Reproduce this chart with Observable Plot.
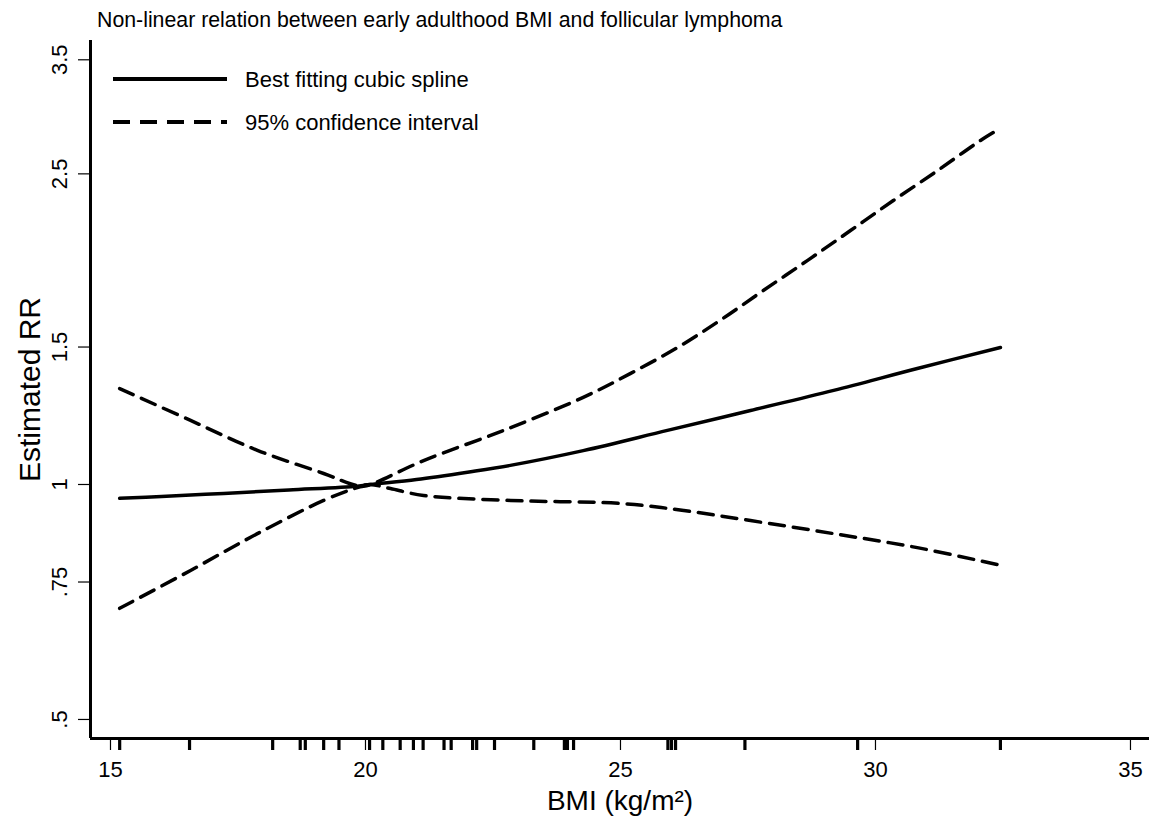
<!DOCTYPE html>
<html>
<head>
<meta charset="utf-8">
<script src="https://cdn.jsdelivr.net/npm/d3@7"></script>
<script src="https://cdn.jsdelivr.net/npm/@observablehq/plot@0.6"></script>
<style>
  html, body { margin: 0; padding: 0; background: #fff; }
  body { width: 1149px; height: 819px; position: relative; overflow: hidden;
         font-family: "Liberation Sans", Arial, sans-serif; color: #000; }
  #title { height: 30px; box-sizing: border-box; padding-top: 10px; padding-left: 97px;
           font-size: 21.3px; line-height: 21px; white-space: nowrap; }
  #legend { position: absolute; left: 0; top: 0; width: 600px; height: 150px; pointer-events: none; }
  #legend text { font-family: "Liberation Sans", Arial, sans-serif; font-size: 22px; fill: #000; }
</style>
</head>
<body>
<div id="title">Non-linear relation between early adulthood BMI and follicular lymphoma</div>
<div id="chart"></div>
<svg id="legend" width="600" height="150">
  <line x1="113" x2="227" y1="79" y2="79" stroke="#000" stroke-width="4"/>
  <text x="245" y="79" dominant-baseline="central">Best fitting cubic spline</text>
  <line x1="113" x2="227" y1="122" y2="122" stroke="#000" stroke-width="4" stroke-dasharray="17,10"/>
  <text x="245" y="122" dominant-baseline="central">95% confidence interval</text>
</svg>
<script>
// ---- data ----
const splineBMI = [15.18, 16.0, 17.22, 18.5, 19.84, 20.1, 21.0, 22.0, 22.84, 24.27, 25.92, 27.55, 29.18, 30.82, 32.45];
const splineRR  = [0.960, 0.965, 0.974, 0.984, 0.995, 1.0, 1.015, 1.037, 1.058, 1.105, 1.173, 1.244, 1.320, 1.408, 1.498];

const upperBMI = [15.18, 16.57, 17.88, 19.18, 19.84, 20.1, 21.14, 22.71, 24.27, 25.20, 26.12, 26.96, 27.80, 28.67, 29.51, 30.35, 31.22, 32.06, 32.45];
const upperRR  = [0.694, 0.776, 0.865, 0.954, 0.991, 1.0, 1.073, 1.173, 1.293, 1.388, 1.498, 1.624, 1.772, 1.937, 2.115, 2.311, 2.525, 2.759, 2.86];

const lowerBMI = [15.18, 16.57, 17.88, 19.18, 19.84, 20.1, 20.49, 21.14, 22.84, 25.06, 26.24, 27.55, 29.18, 30.82, 32.45];
const lowerRR  = [1.327, 1.208, 1.106, 1.033, 0.997, 1.0, 0.988, 0.968, 0.954, 0.945, 0.926, 0.899, 0.865, 0.830, 0.788];

// observed BMI values (rug along the x axis)
const rugBMI = [15.18, 16.55, 18.18, 18.72, 18.82, 19.18, 19.48, 20.08, 20.34, 20.68, 20.94, 21.13,
                21.54, 21.68, 22.1, 22.18, 22.53, 23.30, 23.9, 23.96, 24.08, 25.93, 26.0, 26.08, 27.44, 29.65, 32.45];

const xTicks = [15, 20, 25, 30, 35];
const yTicks = [0.5, 0.75, 1, 1.5, 2.5, 3.5];
const yTickLabels = [".5", ".75", "1", "1.5", "2.5", "3.5"];

const xDomain = [14.608, 35.373];
const yDomain = [0.4727, 3.705];

// ---- build tables ----
const spline = splineBMI.map((x, i) => ({x, y: splineRR[i]}));
const upper = upperBMI.map((x, i) => ({x, y: upperRR[i]}));
const lower = lowerBMI.map((x, i) => ({x, y: lowerRR[i]}));
const yTickTable = yTicks.map((v, i) => ({v, label: yTickLabels[i]}));

const font = "'Liberation Sans', Arial, sans-serif";

const chart = Plot.plot({
  width: 1149,
  height: 789,
  marginTop: 10,
  marginBottom: 81,
  marginLeft: 90,
  marginRight: 0,
  style: {fontFamily: font, background: "#fff", color: "#000", overflow: "visible"},
  x: {type: "linear", domain: xDomain, axis: null},
  y: {type: "log", domain: yDomain, axis: null},
  marks: [
    // axis lines
    Plot.ruleX([xDomain[0]], {stroke: "#000", strokeWidth: 3}),
    Plot.ruleY([yDomain[0]], {stroke: "#000", strokeWidth: 3}),
    // y ticks
    Plot.axisY(yTicks, {tickSize: 12, tickFormat: () => "", stroke: "#000", strokeWidth: 1.2, label: null}),
    Plot.text(yTickTable, {y: "v", text: "label", frameAnchor: "left", textAnchor: "middle", dx: -31, rotate: -90, fontSize: 22, fill: "#000"}),
    // x ticks
    Plot.axisX(xTicks, {tickSize: 12, tickPadding: 11, fontSize: 22, stroke: "#000", strokeWidth: 1.2, label: null, tickFormat: d => String(d)}),
    // rug of observed values
    Plot.axisX(rugBMI, {tickSize: 12, tickFormat: () => "", stroke: "#000", strokeWidth: 3.2, label: null}),
    // axis titles
    Plot.text(["BMI (kg/m²)"], {frameAnchor: "bottom", textAnchor: "middle", dy: 71, fontSize: 28, fill: "#000"}),
    Plot.text(["Estimated RR"], {frameAnchor: "left", textAnchor: "middle", dx: -60, rotate: -90, fontSize: 30, fill: "#000"}),
    // curves
    Plot.line(upper, {x: "x", y: "y", stroke: "#000", strokeWidth: 3.5, strokeDasharray: "15,9", curve: "catmull-rom"}),
    Plot.line(lower, {x: "x", y: "y", stroke: "#000", strokeWidth: 3.5, strokeDasharray: "15,9", curve: "catmull-rom"}),
    Plot.line(spline, {x: "x", y: "y", stroke: "#000", strokeWidth: 3.5, curve: "catmull-rom"})
  ]
});
document.getElementById("chart").appendChild(chart);
</script>
</body>
</html>
